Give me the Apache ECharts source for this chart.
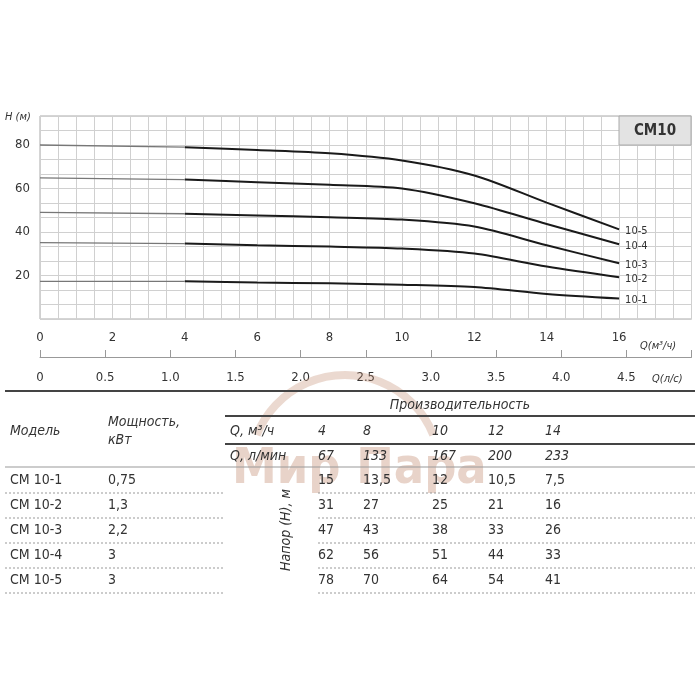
<!DOCTYPE html>
<html><head><meta charset="utf-8">
<script src="https://cdn.jsdelivr.net/npm/echarts@6/dist/echarts.min.js"></script>
<style>html,body{margin:0;background:#fff}#c{width:700px;height:700px}</style>
</head><body><div id="c"></div>
<script>
// curve data
const flowQ = [0, 4, 6, 8, 10, 12, 14, 16];
const curveNames = ["10-1", "10-2", "10-3", "10-4", "10-5"];
const curveH = [
  [17.3, 17.3, 16.8, 16.4, 15.8, 14.7, 11.5, 9.4],
  [35.1, 34.7, 33.9, 33.3, 32.4, 30.1, 24.1, 19.2],
  [49.0, 48.4, 47.6, 46.8, 45.7, 42.5, 33.9, 25.6],
  [64.9, 64.1, 62.9, 61.7, 60.0, 53.2, 43.7, 34.4],
  [80.0, 79.0, 77.7, 76.2, 72.9, 66.0, 53.5, 41.2],
];
const headTicks = [20, 40, 60, 80];
const secondAxisTicks = [0, 0.5, 1.0, 1.5, 2.0, 2.5, 3.0, 3.5, 4.0, 4.5];

// table
const models = ["CM 10-1", "CM 10-2", "CM 10-3", "CM 10-4", "CM 10-5"];
const powers = ["0,75", "1,3", "2,2", "3", "3"];
const tableFlowM3h = ["4", "8", "10", "12", "14"];
const tableFlowLmin = ["67", "133", "167", "200", "233"];
const tableHeads = [
  ["15", "13,5", "12", "10,5", "7,5"],
  ["31", "27", "25", "21", "16"],
  ["47", "43", "38", "33", "26"],
  ["62", "56", "51", "44", "33"],
  ["78", "70", "64", "54", "41"],
];

const FONT = "DejaVu Sans Condensed";
const TXT = "#333";
const colX = [318, 363, 432, 488, 545];
const rowY = [480, 505, 530, 555, 580];

const chart = echarts.init(document.getElementById("c"));

const series = curveNames.map((name, i) => ({
  type: "line",
  name,
  smooth: 0.3,
  symbol: "none",
  data: flowQ.slice(1).map((q, j) => [q, curveH[i][j + 1]]),
  lineStyle: { color: "#1a1a1a", width: 2 },
  endLabel: { show: true, formatter: name, color: TXT, fontFamily: FONT, fontSize: 11, distance: 6, offset: [0, 2] },
}));
// thin grey start segment 0..4
curveNames.forEach((name, i) => {
  series.push({
    type: "line", symbol: "none", silent: true, z: 3,
    data: [[flowQ[0], curveH[i][0]], [flowQ[1], curveH[i][1]]],
    lineStyle: { color: "#777", width: 1.3 },
  });
});

const txt = (x, y, text, extra = {}) => ({
  type: "text", x, y, z: 100,
  style: Object.assign({ text, fill: TXT, font: `14px "${FONT}"`, textVerticalAlign: "middle" }, extra),
});
const hline = (x1, x2, y, width, dash) => ({
  type: "line", z: 100, shape: { x1, y1: y, x2, y2: y },
  style: { stroke: width > 1.5 ? "#444" : "#999", lineWidth: width, lineDash: dash ? [2, 2] : null },
});

const graphics = [
  // watermark
  txt(232, 470, "Мир Пара", { fill: "rgba(190,130,100,0.35)", font: `bold 50px "${FONT}"` }),
  { type: "arc", z: 100, shape: { cx: 345, cy: 470, r: 95, startAngle: Math.PI * 1.12, endAngle: Math.PI * 1.88 },
    style: { stroke: "rgba(190,130,100,0.3)", lineWidth: 8, fill: null } },
  // CM10 box
  { type: "rect", z: 100, shape: { x: 619, y: 116, width: 72, height: 29 }, style: { fill: "#e3e3e3", stroke: "#aaa" } },
  txt(655, 131, "CM10", { font: `bold 15px "${FONT}"`, textAlign: "center" }),
  txt(5, 117, "H (м)", { font: `italic 11px "${FONT}"` }),
  txt(640, 346, "Q(м³/ч)", { font: `italic 11px "${FONT}"` }),
  txt(652, 379, "Q(л/с)", { font: `italic 11px "${FONT}"` }),
  // table frame
  hline(5, 695, 391, 2),
  txt(460, 405, "Производительность", { font: `italic 14px "${FONT}"`, textAlign: "center" }),
  hline(225, 695, 416, 2),
  txt(10, 431, "Модель", { font: `italic 14px "${FONT}"` }),
  txt(108, 422, "Мощность,", { font: `italic 14px "${FONT}"` }),
  txt(108, 440, "кВт", { font: `italic 14px "${FONT}"` }),
  txt(230, 431, "Q, м³/ч", { font: `italic 14px "${FONT}"` }),
  hline(225, 695, 444, 2),
  txt(230, 456, "Q, л/мин", { font: `italic 14px "${FONT}"` }),
  hline(5, 695, 467, 1),
  { type: "text", z: 100, x: 286, y: 530, rotation: Math.PI / 2,
    style: { text: "Напор (Н), м", fill: TXT, font: `italic 14px "${FONT}"`, textAlign: "center", textVerticalAlign: "middle" } },
];
tableFlowM3h.forEach((v, j) => graphics.push(txt(colX[j], 431, v, { font: `italic 14px "${FONT}"` })));
tableFlowLmin.forEach((v, j) => graphics.push(txt(colX[j], 456, v, { font: `italic 14px "${FONT}"` })));
models.forEach((m, i) => {
  const y = rowY[i];
  graphics.push(txt(10, y, m), txt(108, y, powers[i]));
  tableHeads[i].forEach((v, j) => graphics.push(txt(colX[j], y, v)));
  graphics.push(hline(5, 225, y + 13, 1, true), hline(318, 695, y + 13, 1, true));
});

const step = 20 / 3;

chart.setOption({
  animation: false,
  textStyle: { fontFamily: FONT },
  grid: [
    { left: 40, right: 8.5, top: 116, bottom: 381, show: true, borderColor: "#aaa", borderWidth: 1 },
    { left: 40, right: 8.5, top: 356, height: 1 },
  ],
  xAxis: [
    {
      type: "value", gridIndex: 0, min: 0, max: 18, interval: 0.5,
      axisLine: { show: false }, axisTick: { show: false },
      splitLine: { lineStyle: { color: "#d0d0d0" } },
      axisLabel: { color: TXT, fontSize: 13, margin: 12,
        formatter: (v) => (v % 2 === 0 && v <= 16 ? String(v) : "") },
    },
    {
      type: "value", gridIndex: 1, min: 0, max: 5, interval: 0.5, position: "bottom",
      axisLine: { show: true, lineStyle: { color: "#999" } },
      axisTick: { show: true, inside: true, length: 7, lineStyle: { color: "#999" } },
      splitLine: { show: false },
      axisLabel: { color: TXT, fontSize: 13, margin: 14,
        formatter: (v) => (secondAxisTicks.includes(v) ? (v === 0 ? "0" : v.toFixed(1)) : "") },
    },
  ],
  yAxis: [
    {
      type: "value", gridIndex: 0, min: 0, max: 14 * step, interval: step,
      axisLine: { show: false }, axisTick: { show: false },
      splitLine: { lineStyle: { color: "#d0d0d0" } },
      axisLabel: { color: TXT, fontSize: 13, margin: 10,
        formatter: (v) => {
          const t = headTicks.find((h) => Math.abs(h - v) < 0.01);
          return t ? String(t) : "";
        } },
    },
    { type: "value", gridIndex: 1, show: false },
  ],
  series,
  graphic: graphics,
});
</script></body></html>
